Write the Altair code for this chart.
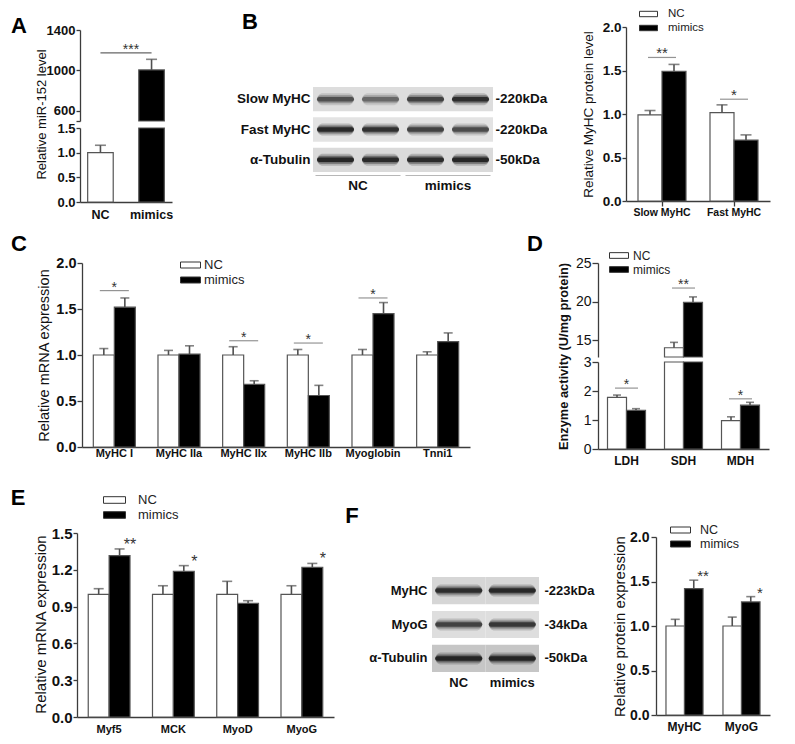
import json
import math
import altair as alt
import pandas as pd

# ======================= DATA =======================
groups = ["NC", "mimics"]

# Panel A - miR-152 level (broken axis)
a_groups = ["NC", "mimics"]
a_mean = [1.0, 1005.0]
a_err = [0.15, 105.0]
a_sig_text = "***"
a_sig_level = 1173.0

# Panel B - western blot quantification
b_targets = ["Slow MyHC", "Fast MyHC"]
b_nc_mean = [0.99, 1.015]
b_nc_err = [0.05, 0.09]
b_mim_mean = [1.49, 0.70]
b_mim_err = [0.08, 0.06]
b_sig_text = ["**", "*"]
b_sig_level = [1.65, 1.17]

# Panel B - blot
b_blot_rows = ["Slow MyHC", "Fast MyHC", "α-Tubulin"]
b_blot_kda = ["-220kDa", "-220kDa", "-50kDa"]
b_blot_lanes = ["NC 1", "NC 2", "mimics 1", "mimics 2"]
b_blot_lane_group = ["NC", "NC", "mimics", "mimics"]
b_blot_slow = [0.62, 0.48, 0.72, 0.88]
b_blot_fast = [0.92, 0.85, 0.72, 0.66]
b_blot_tub = [0.95, 0.90, 0.90, 0.95]

# Panel C - mRNA
c_genes = ["MyHC I", "MyHC IIa", "MyHC IIx", "MyHC IIb", "Myoglobin", "Tnni1"]
c_nc_mean = [1.0, 1.0, 1.0, 1.0, 1.0, 1.0]
c_nc_err = [0.07, 0.05, 0.09, 0.06, 0.06, 0.035]
c_mim_mean = [1.52, 1.01, 0.68, 0.56, 1.45, 1.145]
c_mim_err = [0.10, 0.09, 0.04, 0.11, 0.12, 0.095]
c_sig_genes = ["MyHC I", "MyHC IIx", "MyHC IIb", "Myoglobin"]
c_sig_text = ["*", "*", "*", "*"]
c_sig_level = [1.70, 1.155, 1.13, 1.62]

# Panel D - enzyme activity (broken axis)
d_enzymes = ["LDH", "SDH", "MDH"]
d_nc_mean = [1.78, 14.0, 0.98]
d_nc_err = [0.08, 0.7, 0.13]
d_mim_mean = [1.33, 19.9, 1.51]
d_mim_err = [0.06, 0.7, 0.10]
d_sig_text = ["*", "**", "*"]
d_sig_level = [2.10, 21.75, 1.73]

# Panel E - mRNA
e_genes = ["Myf5", "MCK", "MyoD", "MyoG"]
e_nc_mean = [1.0, 1.0, 1.0, 1.0]
e_nc_err = [0.046, 0.07, 0.106, 0.07]
e_mim_mean = [1.315, 1.187, 0.926, 1.219]
e_mim_err = [0.055, 0.047, 0.022, 0.033]
e_sig_text = ["**", "*", "", "*"]

# Panel F - protein
f_proteins = ["MyHC", "MyoG"]
f_nc_mean = [1.0, 1.0]
f_nc_err = [0.075, 0.10]
f_mim_mean = [1.42, 1.27]
f_mim_err = [0.095, 0.06]
f_sig_text = ["**", "*"]

# Panel F - blot
f_blot_rows = ["MyHC", "MyoG", "α-Tubulin"]
f_blot_kda = ["-223kDa", "-34kDa", "-50kDa"]
f_blot_lanes = ["NC", "mimics"]
f_blot_lane_group = ["NC", "mimics"]
f_blot_myhc = [0.88, 0.92]
f_blot_myog = [0.72, 0.80]
f_blot_tub = [0.95, 0.95]

# ======================= STYLE / LAYOUT =======================
FONT = "Liberation Sans"
W, H = 779, 728
AX = "#3c3c3c"
BAR_STROKE = "#555555"
ERR = "#505050"
SIG = "#666666"
STAR = "#333333"
COLOR = alt.Scale(domain=groups, range=["white", "black"])
SYMBOL = "M-1,-0.3H1V0.3H-1Z"


def P(v):
    return v - 8


def grouped(cats, nc, nce, mm, mme, stars=None):
    recs = []
    for i, c in enumerate(cats):
        recs.append(dict(cat=c, grp="NC", v=nc[i], top=nc[i] + nce[i], star=""))
        recs.append(dict(cat=c, grp="mimics", v=mm[i], top=mm[i] + mme[i],
                         star=(stars[i] if stars else "")))
    return pd.DataFrame(recs)


def band(domain, x0, x1, pi, po=None):
    return alt.Scale(domain=domain, range=[P(x0), P(x1)], paddingInner=pi,
                     paddingOuter=(pi / 2 if po is None else po))


def offset_scale(n, x0, x1, pi):
    bw = (x1 - x0) / n * (1 - pi)
    return alt.Scale(domain=groups, range=[0, bw], paddingInner=0, paddingOuter=0)


def lin(dom, y0, y1):
    return alt.Scale(domain=dom, range=[P(y0), P(y1)], clamp=True, nice=False, zero=False)


def yaxis(x_px, values, fmt, lsize, lweight, tick, pad, title=None, tx=None, ty=None,
          tsize=13, tweight="normal", expr=None):
    kw = dict(orient="left", offset=-P(x_px), values=values, format=fmt,
              labelFontSize=lsize, labelFontWeight=lweight, tickSize=tick,
              labelPadding=pad, labelFont=FONT, labelColor="#111")
    if title:
        kw.update(title=title, titleX=tx - x_px, titleY=P(ty), titleBaseline="middle",
                  titleAlign="center", titleFontSize=tsize, titleFontWeight=tweight,
                  titleFont=FONT, titleColor="#111")
    else:
        kw["title"] = None
    if expr:
        kw["labelExpr"] = expr
    return alt.Axis(**kw)


def xaxis(y_px, lsize, pad, ticks=False, tick=5):
    return alt.Axis(orient="bottom", offset=P(y_px) - H, labelFontSize=lsize,
                    labelFontWeight="bold", labelAngle=0, ticks=ticks,
                    tickSize=(tick if ticks else 0), labelPadding=pad, title=None,
                    labelOverlap=False, labelFont=FONT, labelColor="#111")


def legend(x_left, y_first, spacing, sym_w, fsize, label_x):
    clip = max(spacing, fsize)
    size_field = max(math.ceil(sym_w + 1), fsize)
    return alt.Legend(orient="none", legendX=P(x_left), legendY=P(y_first) - clip / 2,
                      title=None, direction="vertical", symbolType=SYMBOL,
                      symbolSize=sym_w ** 2, symbolStrokeColor="#333",
                      symbolStrokeWidth=1, labelFont=FONT, labelFontSize=fsize,
                      labelColor="#222", labelOffset=label_x - x_left - size_field,
                      clipHeight=clip, rowPadding=spacing - clip, padding=0)


def bar_layers(df, cats, xs, xo, ys, xax=None, yax=None, leg=None, bar_filter=None,
               err_filter=None, base=0, cap=9):
    ex_axis = alt.X("cat:N", scale=xs, sort=cats, axis=xax)
    ex = alt.X("cat:N", scale=xs, sort=cats, axis=None)
    exo = alt.XOffset("grp:N", scale=xo, sort=groups)
    b = alt.Chart(df)
    if bar_filter:
        b = b.transform_filter(bar_filter)
    bars = b.mark_bar(stroke=BAR_STROKE, strokeWidth=1.2).encode(
        x=ex_axis, xOffset=exo,
        y=alt.Y("v:Q", scale=ys, axis=yax),
        y2=alt.datum(base),
        color=alt.Color("grp:N", scale=COLOR, legend=leg),
    )
    e = alt.Chart(df)
    if err_filter:
        e = e.transform_filter(err_filter)
    rule = e.mark_rule(color=ERR, strokeWidth=1.6).encode(
        x=ex, xOffset=exo, y=alt.Y("v:Q", scale=ys, axis=None), y2="top:Q")
    capm = e.mark_tick(color=ERR, thickness=1.6, size=cap, orient="horizontal").encode(
        x=ex, xOffset=exo, y=alt.Y("top:Q", scale=ys, axis=None))
    return [bars, rule, capm]


def sig_layers(sdf, cats, xs, ys, length, fsize, dy, filt=None):
    c = alt.Chart(sdf)
    if filt:
        c = c.transform_filter(filt)
    ex = alt.X("cat:N", scale=xs, sort=cats, axis=None)
    line = c.mark_tick(orient="horizontal", size=length, thickness=1.2, color=SIG).encode(
        x=ex, y=alt.Y("level:Q", scale=ys, axis=None))
    txt = c.mark_text(font=FONT, fontSize=fsize, color=STAR, baseline="alphabetic",
                      dy=dy).encode(x=ex, y=alt.Y("level:Q", scale=ys, axis=None), text="t:N")
    return [line, txt]


def star_layer(df, cats, xs, xo, ys, fsize, dy):
    return alt.Chart(df).transform_filter("datum.star != ''").mark_text(
        font=FONT, fontSize=fsize, color=STAR, baseline="alphabetic", dy=dy).encode(
        x=alt.X("cat:N", scale=xs, sort=cats, axis=None),
        xOffset=alt.XOffset("grp:N", scale=xo, sort=groups),
        y=alt.Y("top:Q", scale=ys, axis=None), text="star:N")


def blot_layers(rows, kda, lanes, lane_group, inten_rows, bg_rows, x0, x1, y0, y1,
                lpad, rpad, fsize, band_len, bot_y, bot_pad, underline=None):
    recs = []
    for ri, r in enumerate(rows):
        for li, l in enumerate(lanes):
            recs.append(dict(row=r, lane=l, grp=lane_group[li], inten=inten_rows[ri][li],
                             bg=bg_rows[ri]))
    df = pd.DataFrame(recs)
    xs = alt.Scale(domain=lanes, range=[P(x0), P(x1)], paddingInner=0, paddingOuter=0)
    ys = alt.Scale(domain=rows, range=[P(y0), P(y1)], paddingInner=0.2, paddingOuter=0)
    common = dict(domain=False, ticks=False, tickSize=0, labelFontSize=fsize,
                  labelFontWeight="bold", title=None, labelColor="#111", labelFont=FONT)
    left = alt.Axis(orient="left", offset=-P(x0), labelPadding=lpad, **common)
    expr = " : ".join(
        f"datum.value === {json.dumps(r, ensure_ascii=False)} ? {json.dumps(k)}"
        for r, k in zip(rows, kda)) + " : ''"
    right = alt.Axis(orient="right", offset=P(x1) - W, labelPadding=rpad, labelExpr=expr,
                     **common)
    bottom = alt.Axis(orient="bottom", offset=P(bot_y) - H, labelPadding=bot_pad,
                      labelAngle=0, **common)
    out = []
    out.append(alt.Chart(df).mark_rect().encode(
        x=alt.X("lane:N", scale=xs, axis=(None if underline else bottom)),
        y=alt.Y("row:N", scale=ys, axis=left),
        color=alt.Color("bg:N", scale=None)))
    for k, (th, opk) in enumerate([(12, 0.22), (8, 0.45), (4.5, 0.85)]):
        out.append(alt.Chart(df).transform_calculate(op=f"datum.inten * {opk}").mark_tick(
            orient="horizontal", size=band_len, thickness=th, cornerRadius=th / 2,
            color="#151515").encode(
            x=alt.X("lane:N", scale=xs, axis=None),
            y=alt.Y("row:N", scale=ys, axis=(right if k == 2 else None)),
            opacity=alt.Opacity("op:Q", scale=None)))
    if underline:
        uy, ulen = underline
        gs = alt.Scale(domain=groups, range=[P(x0), P(x1)], paddingInner=0, paddingOuter=0)
        out.append(alt.Chart(pd.DataFrame({"grp": groups})).mark_tick(
            orient="horizontal", size=ulen, thickness=1, color="#999").encode(
            x=alt.X("grp:N", scale=gs, axis=bottom), y=alt.value(P(uy))))
    return out


layers = []

# ---------------- Panel A ----------------
dfA = pd.DataFrame({"grp": a_groups, "v": a_mean,
                    "top": [m + e for m, e in zip(a_mean, a_err)]})
xA = band(a_groups, 80, 172, 0.5, 0.15)
yA_lo = lin([0, 1.5], 202, 128)
yA_hi = lin([500, 1400], 121, 30)
colA = alt.Color("grp:N", scale=COLOR, legend=None)
xA_ax = alt.X("grp:N", scale=xA, sort=a_groups, axis=xaxis(202, 12.5, 6))
xA_no = alt.X("grp:N", scale=xA, sort=a_groups, axis=None)
layers.append(alt.Chart(dfA).mark_bar(stroke=BAR_STROKE, strokeWidth=1.2).encode(
    x=xA_ax,
    y=alt.Y("v:Q", scale=yA_lo, axis=yaxis(80, [0, 0.5, 1, 1.5], ".1f", 13, "bold", 4, 1,
                                           title="Relative miR-152 level", tx=41, ty=114,
                                           tsize=13)),
    y2=alt.datum(0), color=colA))
layers.append(alt.Chart(dfA).transform_filter("datum.v > 500").mark_bar(
    stroke=BAR_STROKE, strokeWidth=1.2).encode(
    x=xA_no,
    y=alt.Y("v:Q", scale=yA_hi, axis=yaxis(80, [500, 600, 1000, 1400], "d", 13, "bold", 4, 1,
                                           expr="datum.value == 500 ? '' : datum.label")),
    y2=alt.datum(500), color=colA))
for filt, ys in [("datum.top <= 1.5", yA_lo), ("datum.v > 500", yA_hi)]:
    c = alt.Chart(dfA).transform_filter(filt)
    layers.append(c.mark_rule(color=ERR, strokeWidth=1.6).encode(
        x=xA_no, y=alt.Y("v:Q", scale=ys, axis=None), y2="top:Q"))
    layers.append(c.mark_tick(color=ERR, thickness=1.6, size=11, orient="horizontal").encode(
        x=xA_no, y=alt.Y("top:Q", scale=ys, axis=None)))
dfAsig = pd.DataFrame({"a": [a_groups[0]], "b": [a_groups[1]], "level": [a_sig_level],
                       "t": [a_sig_text]})
layers.append(alt.Chart(dfAsig).mark_rule(color=SIG, strokeWidth=1.2).encode(
    x=alt.X("a:N", scale=xA, axis=None), x2="b:N",
    y=alt.Y("level:Q", scale=yA_hi, axis=None)))
layers.append(alt.Chart(dfAsig).mark_text(font=FONT, fontSize=14, color=STAR,
                                          baseline="alphabetic", dy=1, dx=28).encode(
    x=alt.X("a:N", scale=xA, axis=None), y=alt.Y("level:Q", scale=yA_hi, axis=None),
    text="t:N"))

# ---------------- Panel B chart ----------------
dfB = grouped(b_targets, b_nc_mean, b_nc_err, b_mim_mean, b_mim_err)
xB = band(b_targets, 626, 770, 1 / 3)
xoB = offset_scale(2, 626, 770, 1 / 3)
yB = lin([0, 2], 201, 27)
layers += bar_layers(
    dfB, b_targets, xB, xoB, yB,
    xax=xaxis(201, 10.5, 1, ticks=True, tick=5),
    yax=yaxis(626, [0, 0.5, 1, 1.5, 2], ".1f", 13.5, "bold", 4, 1,
              title="Relative MyHC protein level", tx=588, ty=114, tsize=13.5),
    leg=legend(639, 14, 13.5, 18, 11.5, 668), cap=11)
dfBsig = pd.DataFrame({"cat": b_targets, "level": b_sig_level, "t": b_sig_text})
layers += sig_layers(dfBsig, b_targets, xB, yB, 28, 15, 1)

# ---------------- Panel B blot ----------------
layers += blot_layers(b_blot_rows, b_blot_kda, b_blot_lanes, b_blot_lane_group,
                      [b_blot_slow, b_blot_fast, b_blot_tub],
                      ["#dddddd", "#e3e3e3", "#dadada"],
                      313, 493, 87, 172, 3, 2, 13.5, 37, 172, 6, underline=(175.5, 85))

# ---------------- Panel C ----------------
dfC = grouped(c_genes, c_nc_mean, c_nc_err, c_mim_mean, c_mim_err)
xC = band(c_genes, 82, 470, 0.35)
xoC = offset_scale(6, 82, 470, 0.35)
yC = lin([0, 2], 447, 263)
layers += bar_layers(
    dfC, c_genes, xC, xoC, yC,
    xax=xaxis(447, 11, 0),
    yax=yaxis(82, [0, 0.5, 1, 1.5, 2], ".1f", 14.5, "bold", 5, 1,
              title="Relative mRNA expression", tx=44, ty=355, tsize=14.5),
    leg=legend(180, 265, 15, 20, 13, 204), cap=9)
dfCsig = pd.DataFrame({"cat": c_sig_genes, "level": c_sig_level, "t": c_sig_text})
layers += sig_layers(dfCsig, c_genes, xC, yC, 29, 14, 1)

# ---------------- Panel D ----------------
dfD = grouped(d_enzymes, d_nc_mean, d_nc_err, d_mim_mean, d_mim_err)
xD = band(d_enzymes, 598, 769, 1 / 3)
xoD = offset_scale(3, 598, 769, 1 / 3)
yD_lo = lin([0, 3], 449, 362)
yD_hi = lin([12.8, 25], 357, 263)
layers += bar_layers(
    dfD, d_enzymes, xD, xoD, yD_lo,
    xax=xaxis(449, 12, 6),
    yax=yaxis(598, [0, 1, 2, 3], "d", 14, "normal", 6, 1,
              title="Enzyme activity (U/mg protein)", tx=563, ty=356, tsize=12.8,
              tweight="bold"),
    leg=legend(609, 255.5, 14, 19, 12, 633), err_filter="datum.top <= 3", cap=8)
layers += bar_layers(
    dfD, d_enzymes, xD, xoD, yD_hi,
    yax=yaxis(598, [15, 20, 25], "d", 14, "normal", 6, 1),
    bar_filter="datum.v > 12.8", err_filter="datum.v > 3", base=12.8, cap=8)
dfDsig = pd.DataFrame({"cat": d_enzymes, "level": d_sig_level, "t": d_sig_text})
layers += sig_layers(dfDsig, d_enzymes, xD, yD_lo, 23, 14, 1, filt="datum.level <= 3")
layers += sig_layers(dfDsig, d_enzymes, xD, yD_hi, 23, 14, 1, filt="datum.level > 3")

# ---------------- Panel E ----------------
dfE = grouped(e_genes, e_nc_mean, e_nc_err, e_mim_mean, e_mim_err, e_sig_text)
xE = band(e_genes, 77, 334, 0.35)
xoE = offset_scale(4, 77, 334, 0.35)
yE = lin([0, 1.5], 717, 533)
layers += bar_layers(
    dfE, e_genes, xE, xoE, yE,
    xax=xaxis(717, 11, 6),
    yax=yaxis(77, [0, 0.3, 0.6, 0.9, 1.2, 1.5], ".1f", 15, "bold", 4, 1,
              title="Relative mRNA expression", tx=40, ty=624, tsize=15),
    leg=legend(103, 500, 14.5, 22, 13, 138), cap=10)
layers.append(star_layer(dfE, e_genes, xE, xoE, yE, 16, 1))

# ---------------- Panel F chart ----------------
dfF = grouped(f_proteins, f_nc_mean, f_nc_err, f_mim_mean, f_mim_err, f_sig_text)
xF = band(f_proteins, 656, 770, 0.35)
xoF = offset_scale(2, 656, 770, 0.35)
yF = lin([0, 2], 715, 537)
layers += bar_layers(
    dfF, f_proteins, xF, xoF, yF,
    xax=xaxis(715, 12, 6),
    yax=yaxis(656, [0, 0.5, 1, 1.5, 2], ".1f", 14, "bold", 5, 2,
              title="Relative protein expression", tx=619, ty=626, tsize=15),
    leg=legend(670, 530, 14, 20, 12.5, 700), cap=9)
layers.append(star_layer(dfF, f_proteins, xF, xoF, yF, 15, 1))

# ---------------- Panel F blot ----------------
layers += blot_layers(f_blot_rows, f_blot_kda, f_blot_lanes, f_blot_lane_group,
                      [f_blot_myhc, f_blot_myog, f_blot_tub],
                      ["#d6d6d6", "#dedede", "#c6c6c6"],
                      432, 539, 577, 672, 5, 5, 13, 47, 672, 4)

# ---------------- panel letters ----------------
letter_pos = {"A": (19, 26), "B": (250, 22), "C": (19, 244), "D": (535, 244),
              "E": (18, 498), "F": (352, 516)}
for letter, (lx, ly) in letter_pos.items():
    layers.append(alt.Chart(pd.DataFrame({"t": [letter]})).mark_text(
        font=FONT, fontSize=22, fontWeight="bold", color="#000", baseline="middle",
        align="center").encode(text="t:N", x=alt.value(P(lx)), y=alt.value(P(ly))))

chart = alt.layer(*layers).resolve_scale(
    x="independent", y="independent", xOffset="independent", color="independent"
).properties(
    width=W, height=H, autosize=alt.AutoSizeParams(type="none"), padding=0
).configure_view(stroke=None).configure_axis(
    grid=False, domainColor=AX, tickColor=AX, domainWidth=1.3, tickWidth=1.3,
    labelFont=FONT, titleFont=FONT
)

chart.save("out.html", embed_options={"renderer": "svg", "actions": False})
